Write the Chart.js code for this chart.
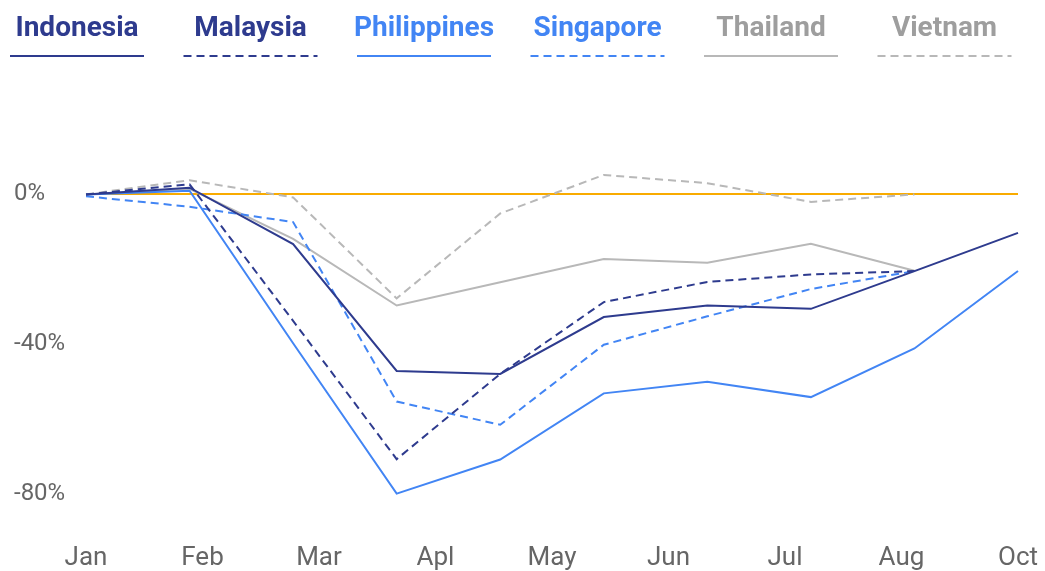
<!DOCTYPE html>
<html>
<head>
<meta charset="utf-8">
<script src="https://cdn.jsdelivr.net/npm/chart.js@4.4.0/dist/chart.umd.min.js"></script>
<style>
  html, body { margin: 0; padding: 0; background: #fff; }
  #wrap { width: 1045px; height: 571px; }
</style>
</head>
<body>
<div id="wrap"><canvas id="chart" width="1045" height="571"></canvas></div>
<script>
// data months (one point per month) and the labels printed under the axis
const months = ["Jan", "Feb", "Mar", "Apr", "May", "Jun", "Jul", "Aug", "Sep", "Oct"];
const axisLabels = ["Jan", "Feb", "Mar", "Apl", "May", "Jun", "Jul", "Aug", "Oct"];
const yTicks = [-80, -40, 0];

// % change vs Jan
const indonesia   = [0, 1.8, -13.3, -47.2, -48.0, -32.8, -29.7, -30.6, -20.5, -10.3];
const malaysia    = [0, 2.7, -33.8, -70.8, -48.0, -28.8, -23.4, -21.4, -20.5, null];
const philippines = [0, 1.0, -39.8, -80.0, -70.9, -53.2, -50.1, -54.2, -41.2, -20.5];
const singapore   = [-0.5, -3.3, -7.4, -55.4, -61.6, -40.2, -32.6, -25.3, -20.5, null];
const thailand    = [0, 1.5, -11.9, -29.7, -23.5, -17.3, -18.3, -13.2, -20.4, null];
const vietnam     = [0, 3.8, -0.8, -27.8, -5.1, 5.2, 3.0, -2.0, 0, null];

const NAVY = "#2e3b8e";
const BLUE = "#4285f4";
const GREY = "#b8b8b8";
const GREY_TEXT = "#9e9e9e";
const DASH = [8, 5];

const series = [
  { name: "Indonesia",   data: indonesia,   color: NAVY, text: NAVY,      dash: [] },
  { name: "Malaysia",    data: malaysia,    color: NAVY, text: NAVY,      dash: DASH },
  { name: "Philippines", data: philippines, color: BLUE, text: BLUE,      dash: [] },
  { name: "Singapore",   data: singapore,   color: BLUE, text: BLUE,      dash: DASH },
  { name: "Thailand",    data: thailand,    color: GREY, text: GREY_TEXT, dash: [] },
  { name: "Vietnam",     data: vietnam,     color: GREY, text: GREY_TEXT, dash: DASH }
];

// legend: name on top, line sample below
const topLegend = {
  id: "topLegend",
  afterDraw(chart) {
    const ctx = chart.ctx;
    chart.data.datasets.forEach((ds, i) => {
      const cx = 77 + i * 173.5;
      ctx.save();
      ctx.font = "bold 28px Roboto";
      ctx.fillStyle = ds.textColor;
      ctx.textAlign = "center";
      ctx.textBaseline = "alphabetic";
      ctx.fillText(ds.label, cx, 36);
      ctx.strokeStyle = ds.borderColor;
      ctx.lineWidth = 2;
      ctx.setLineDash(ds.borderDash);
      ctx.beginPath();
      ctx.moveTo(cx - 67, 56);
      ctx.lineTo(cx + 67, 56);
      ctx.stroke();
      ctx.restore();
    });
  }
};

new Chart(document.getElementById("chart"), {
  type: "line",
  data: {
    labels: months,
    datasets: series.map(s => ({
      label: s.name,
      data: s.data,
      xAxisID: "x",
      borderColor: s.color,
      textColor: s.text,
      borderWidth: 2,
      borderDash: s.dash,
      pointRadius: 0,
      pointHoverRadius: 0,
      tension: 0,
      fill: false
    }))
  },
  options: {
    responsive: false,
    animation: false,
    devicePixelRatio: 1,
    layout: { padding: { top: 157, left: 14, right: 27, bottom: 0 } },
    plugins: { legend: { display: false }, tooltip: { enabled: false } },
    scales: {
      x: { type: "category", labels: months, display: false, offset: false },
      xTicks: {
        type: "category",
        labels: axisLabels,
        position: "bottom",
        offset: false,
        afterFit: ax => { ax.height = 40; ax.paddingLeft = 0; ax.paddingRight = 0; },
        grid: { display: false, drawTicks: false },
        border: { display: false },
        ticks: { font: { family: "Roboto", size: 26 }, color: "#666", padding: 12, maxRotation: 0, autoSkip: false }
      },
      y: {
        min: -90,
        max: 10,
        z: 1,
        afterBuildTicks: ax => { ax.ticks = yTicks.map(v => ({ value: v })); },
        afterFit: ax => { ax.width = 72; },
        grid: {
          color: c => (c.tick && c.tick.value === 0 ? "#f9ab00" : "rgba(0,0,0,0)"),
          lineWidth: 2,
          drawTicks: false
        },
        border: { display: false },
        ticks: {
          crossAlign: "far",
          padding: 0,
          color: "#666",
          font: { family: "Roboto", size: 24 },
          callback: v => v + "%"
        }
      }
    }
  },
  plugins: [topLegend]
});
</script>
</body>
</html>
